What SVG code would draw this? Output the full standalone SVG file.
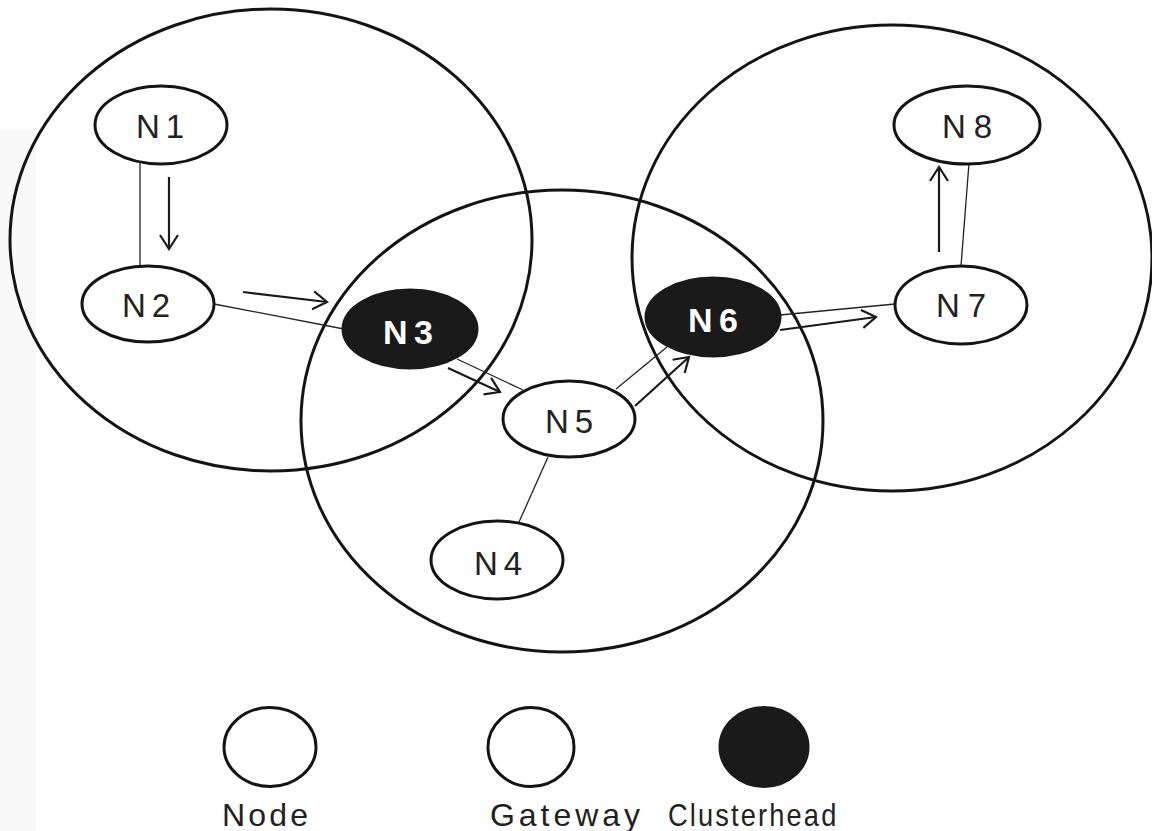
<svg xmlns="http://www.w3.org/2000/svg" width="1152" height="831" viewBox="0 0 1152 831">
  <style>
    .cluster { fill: none; stroke: #141414; stroke-width: 3; }
    .node { fill: #ffffff; stroke: #141414; stroke-width: 3; }
    .head { fill: #1a1a1a; stroke: #1a1a1a; stroke-width: 3; }
    .link { stroke: #222222; stroke-width: 1.3; fill: none; }
    .flow { stroke: #1a1a1a; stroke-width: 2.2; fill: none; marker-end: url(#open-arrow); }
    .lbl { font-family: "Liberation Sans", Arial, sans-serif; font-size: 33px; fill: #222222; text-anchor: middle; }
    .lbl-head { font-family: "Liberation Sans", Arial, sans-serif; font-size: 34px; font-weight: bold; fill: #ffffff; text-anchor: middle; }
    .legend-lbl { font-family: "Liberation Sans", Arial, sans-serif; font-size: 32px; fill: #222222; }
  </style>
  <defs>
    <marker id="open-arrow" markerUnits="userSpaceOnUse" markerWidth="18" markerHeight="22" viewBox="0 0 18 22" refX="15" refY="10" orient="auto">
      <path d="M1,1 L15,10 L1,19" fill="none" stroke="#1a1a1a" stroke-width="2.2"/>
    </marker>
  </defs>

  <rect x="0" y="0" width="1152" height="831" fill="#ffffff"/>
  <rect x="0" y="130" width="36" height="701" fill="#f9f9f9"/>

  <!-- cluster ranges -->
  <g id="clusters">
    <ellipse class="cluster" cx="271" cy="240" rx="261" ry="231"/>
    <ellipse class="cluster" cx="562" cy="421" rx="261" ry="231"/>
    <ellipse class="cluster" cx="892" cy="258" rx="260" ry="233"/>
  </g>

  <!-- links and data-flow arrows -->
  <g id="connectors">
    <line class="link" x1="140" y1="163" x2="140" y2="266"/>
    <line class="link" x1="214" y1="304" x2="344" y2="329"/>
    <line class="link" x1="457" y1="359" x2="523" y2="390"/>
    <line class="link" x1="548" y1="457" x2="519" y2="522"/>
    <line class="link" x1="616" y1="389" x2="667" y2="347"/>
    <line class="link" x1="780" y1="315" x2="895" y2="304"/>
    <line class="link" x1="961" y1="266" x2="969" y2="163"/>

    <line class="flow" x1="169" y1="177" x2="169" y2="249"/>
    <line class="flow" x1="243" y1="292" x2="327" y2="302"/>
    <line class="flow" x1="448" y1="368" x2="500" y2="392"/>
    <line class="flow" x1="635" y1="406" x2="689" y2="357"/>
    <line class="flow" x1="780" y1="330" x2="876" y2="317"/>
    <line class="flow" x1="939" y1="252" x2="939" y2="167"/>
  </g>

  <g id="n1"><ellipse class="node" cx="161" cy="125" rx="66" ry="39"/><text class="lbl" x="160" y="138" textLength="48" lengthAdjust="spacing">N1</text></g>
  <g id="n2"><ellipse class="node" cx="148" cy="304" rx="66" ry="38"/><text class="lbl" x="146" y="317" textLength="48" lengthAdjust="spacing">N2</text></g>
  <g id="n3"><ellipse class="head" cx="410" cy="329" rx="67" ry="39"/><text class="lbl-head" x="408" y="344" textLength="50" lengthAdjust="spacing">N3</text></g>
  <g id="n4"><ellipse class="node" cx="497" cy="560" rx="66" ry="39"/><text class="lbl" x="498" y="575" textLength="48" lengthAdjust="spacing">N4</text></g>
  <g id="n5"><ellipse class="node" cx="569" cy="419" rx="66" ry="38"/><text class="lbl" x="569" y="433" textLength="48" lengthAdjust="spacing">N5</text></g>
  <g id="n6"><ellipse class="head" cx="713" cy="317" rx="67" ry="39"/><text class="lbl-head" x="713" y="332" textLength="50" lengthAdjust="spacing">N6</text></g>
  <g id="n7"><ellipse class="node" cx="961" cy="305" rx="66" ry="39"/><text class="lbl" x="961" y="317" textLength="50" lengthAdjust="spacing">N7</text></g>
  <g id="n8"><ellipse class="node" cx="967" cy="125" rx="73" ry="39"/><text class="lbl" x="967" y="138" textLength="50" lengthAdjust="spacing">N8</text></g>

  <!-- legend -->
  <g id="legend-node"><ellipse class="node" cx="270" cy="747" rx="46" ry="39.5"/><text class="legend-lbl" x="222" y="826" textLength="86" lengthAdjust="spacing">Node</text></g>
  <g id="legend-gateway"><ellipse class="node" cx="531" cy="747" rx="43" ry="39.5"/><text class="legend-lbl" x="490" y="826" textLength="150" lengthAdjust="spacing">Gateway</text></g>
  <g id="legend-clusterhead"><ellipse class="head" cx="764" cy="747" rx="44" ry="39.5"/><text class="legend-lbl" transform="translate(668,826) scale(0.85,1)" x="0" y="0" textLength="198" lengthAdjust="spacing">Clusterhead</text></g>
</svg>
